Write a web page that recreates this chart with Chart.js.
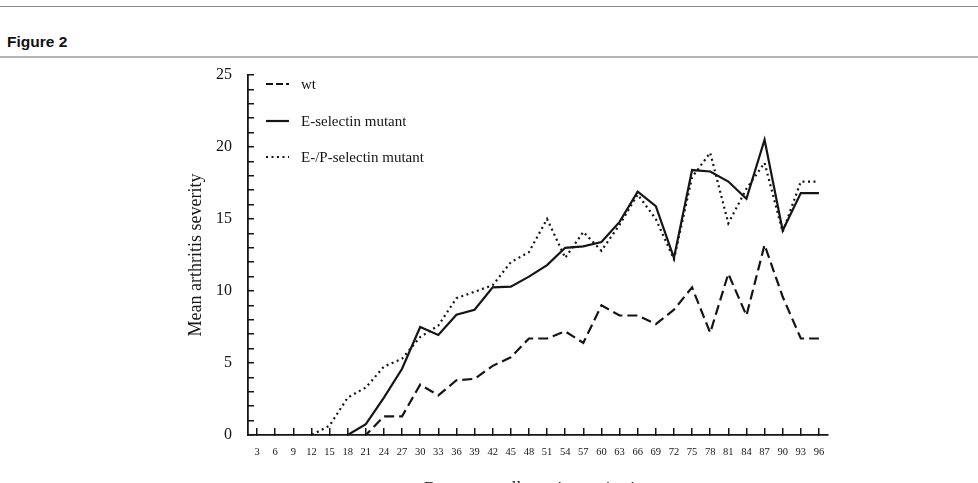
<!DOCTYPE html>
<html>
<head>
<meta charset="utf-8">
<script src="https://cdn.jsdelivr.net/npm/chart.js@4/dist/chart.umd.min.js"></script>
<style>
  html, body { margin: 0; padding: 0; background: #fff; width: 978px; height: 483px; overflow: hidden; }
  #top { position: absolute; left: 0; top: 6px; width: 978px; height: 0; border-top: 1.5px solid #8a8a8a; }
  #bot { position: absolute; left: 0; top: 56px; width: 978px; height: 0; border-top: 2px solid #b4b4b4; }
  #fig { position: absolute; left: 7px; top: 33px; font: bold 15.5px "Liberation Sans", Arial, sans-serif; color: #111; }
  #wrap { position: absolute; left: 0; top: 0; width: 978px; height: 502px; }
</style>
</head>
<body>
<div id="top"></div>
<div id="fig">Figure 2</div>
<div id="bot"></div>
<div id="wrap"><canvas id="c" width="978" height="502"></canvas></div>
<script>
const days = [3,6,9,12,15,18,21,24,27,30,33,36,39,42,45,48,51,54,57,60,63,66,69,72,75,78,81,84,87,90,93,96];
const wt = [0,0,0,0,0,0,0,1.3,1.3,3.5,2.75,3.8,3.9,4.8,5.4,6.7,6.7,7.2,6.4,9.0,8.3,8.3,7.7,8.7,10.25,7.1,11.2,8.3,13.2,9.6,6.7,6.7];
const eSel = [0,0,0,0,0,0,0.75,2.6,4.6,7.5,6.95,8.35,8.7,10.25,10.3,11.0,11.8,13.0,13.1,13.4,14.8,16.9,15.9,12.3,18.4,18.3,17.6,16.4,20.5,14.2,16.8,16.8];
const epSel = [0,0,0,0,0.65,2.6,3.3,4.75,5.3,6.8,7.6,9.5,9.95,10.4,12.0,12.7,15.0,12.3,14.1,12.8,14.6,16.7,15.0,12.2,17.9,19.6,14.7,17.1,18.9,14.1,17.6,17.6];
const seriesNames = ['wt', 'E-selectin mutant', 'E-/P-selectin mutant'];
const yTickLabels = [0, 5, 10, 15, 20, 25];
const xTitle = 'Days post collagen immunization';
const yTitle = 'Mean arthritis severity';

const serif = '"Liberation Serif", "Times New Roman", serif';
const ink = '#151515';

const legendPlugin = {
  id: 'innerLegend',
  afterDraw(chart) {
    const ctx = chart.ctx;
    const x0 = 266, x1 = 289, tx = 301;
    const ys = [84, 121, 157];
    chart.data.datasets.forEach((ds, i) => {
      ctx.save();
      ctx.strokeStyle = ds.borderColor;
      ctx.lineWidth = ds.borderWidth;
      ctx.setLineDash(i === 0 ? [7, 3] : (ds.borderDash || []));
      ctx.beginPath();
      ctx.moveTo(x0, ys[i]);
      ctx.lineTo(x1, ys[i]);
      ctx.stroke();
      ctx.setLineDash([]);
      ctx.fillStyle = ink;
      ctx.font = '15px ' + serif;
      ctx.textBaseline = 'middle';
      ctx.fillText(ds.label, tx, ys[i] + 1);
      ctx.restore();
    });
  }
};

new Chart(document.getElementById('c'), {
  type: 'line',
  data: {
    labels: days,
    datasets: [
      { label: seriesNames[0], data: wt, borderColor: ink, borderWidth: 2.2, borderDash: [10, 5], pointRadius: 0, tension: 0, fill: false },
      { label: seriesNames[1], data: eSel, borderColor: ink, borderWidth: 2.2, pointRadius: 0, tension: 0, fill: false },
      { label: seriesNames[2], data: epSel, borderColor: ink, borderWidth: 2.2, borderDash: [2, 3.5], pointRadius: 0, tension: 0, fill: false }
    ]
  },
  options: {
    responsive: false,
    animation: false,
    events: [],
    layout: { padding: { left: 185, right: 150, top: 75, bottom: 3 } },
    plugins: { legend: { display: false }, tooltip: { enabled: false } },
    scales: {
      x: {
        type: 'category',
        offset: true,
        grid: { display: true, drawOnChartArea: false, drawTicks: true, tickLength: -7, color: ink, lineWidth: 1.5, offset: false },
        border: { display: true, color: ink, width: 1.8 },
        ticks: { autoSkip: false, maxRotation: 0, padding: 18, color: ink, font: { family: serif, size: 10.5 } },
        title: { display: true, text: xTitle, color: ink, font: { family: serif, size: 17 }, padding: 0 },
        afterFit(s) { s.height = 64; }
      },
      y: {
        min: 0, max: 25,
        grid: { display: true, drawOnChartArea: false, drawTicks: true, tickLength: -6, color: ink, lineWidth: 1.5 },
        border: { display: true, color: ink, width: 1.8 },
        ticks: {
          stepSize: 1, autoSkip: false, padding: 22, color: ink,
          font: { family: serif, size: 16 },
          callback: (v) => yTickLabels.includes(v) ? String(v) : ''
        },
        title: { display: true, text: yTitle, color: ink, font: { family: serif, size: 18 }, padding: 0 },
        afterFit(s) { s.width = 63; }
      }
    }
  },
  plugins: [legendPlugin]
});
</script>
</body>
</html>
